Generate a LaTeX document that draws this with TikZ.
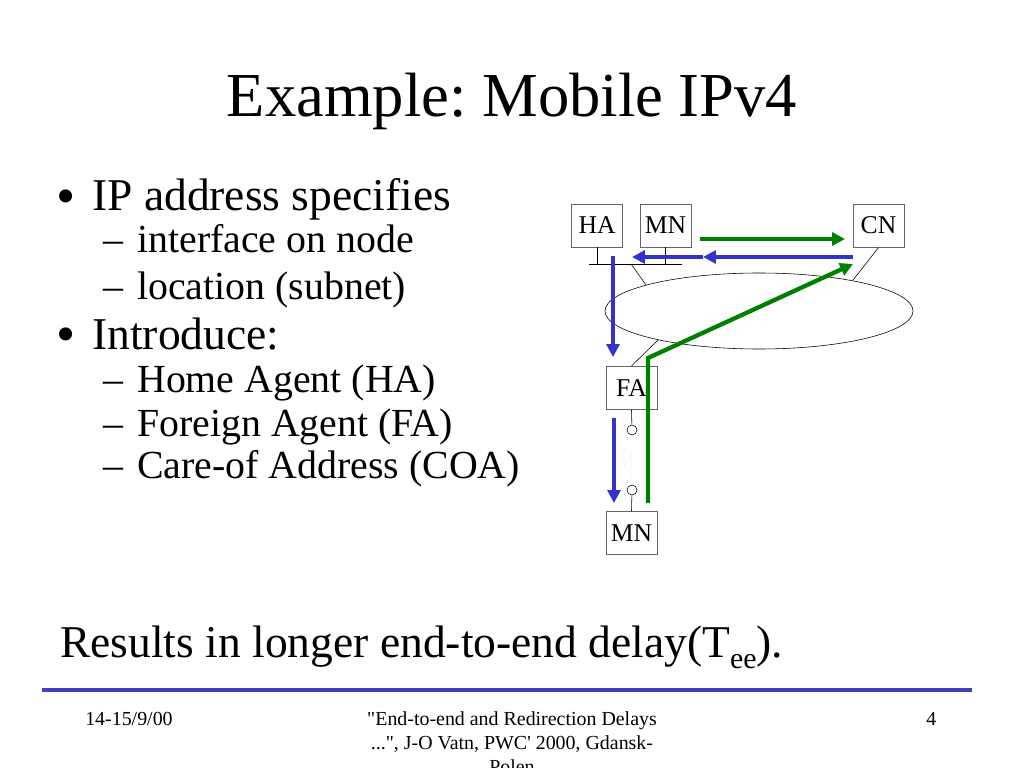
\documentclass[tikz,border=0pt]{standalone}
\usepackage{fontspec}
\setmainfont{Liberation Serif}
\newfontfamily\plainserif{Liberation Serif}[Ligatures=TeXOff]
\usetikzlibrary{arrows.meta,shapes.geometric}
\definecolor{msgblue}{RGB}{51,51,204}
\definecolor{msggreen}{RGB}{0,128,0}
\definecolor{rulecol}{RGB}{64,64,192}
\newlength\pxu
\setlength\pxu{0.703125pt}
\frenchspacing
\tikzset{
  txt/.style={inner sep=0pt, anchor=base west},
  lvlone/.style={txt, font=\fontsize{32}{38}\selectfont},
  lvltwo/.style={txt, font=\fontsize{28}{34}\selectfont},
  foot/.style={inner sep=0pt, font=\plainserif\fontsize{14}{17}\selectfont},
  host/.style={draw=black!60, line width=0.7pt, fill=white, inner sep=0pt,
    minimum width=51\pxu, minimum height=43\pxu, font=\fontsize{18}{20}\selectfont},
  port/.style={draw, circle, fill=white, inner sep=0pt, minimum size=10\pxu},
  bluearrow/.style={msgblue, line width=3pt, -{Triangle[length=9pt,width=9pt]}},
  greenarrow/.style={msggreen, line width=3pt, -{Triangle[length=9pt,width=9pt]}}
}
\begin{document}
\begin{tikzpicture}[x=\pxu,y=-\pxu]
\useasboundingbox (0,0) rectangle (1024,768);

\node[inner sep=0pt, anchor=base, font=\fontsize{44}{53}\selectfont] (title) at (512,117) {Example: Mobile IPv4};

\node[lvlone] (bulA) at (56,211) {\raisebox{-2.5pt}{\scalebox{1.2}{•}}};
\node[lvlone] (addr) at (92,211) {IP address specifies};
\node[lvltwo] (dashA) at (103,253) {–};
\node[lvltwo] (iface) at (137,253) {interface on node};
\node[lvltwo] (dashB) at (103,299) {–};
\node[lvltwo] (loc) at (137,299) {location (subnet)};
\node[lvlone] (bulB) at (56,349) {\raisebox{-2.5pt}{\scalebox{1.2}{•}}};
\node[lvlone] (intro) at (92,349) {Introduce:};
\node[lvltwo] (dashC) at (103,392) {–};
\node[lvltwo] (home) at (137,392) {Home Agent (HA)};
\node[lvltwo] (dashD) at (103,436) {–};
\node[lvltwo] (foreign) at (137,436) {Foreign Agent (FA)};
\node[lvltwo] (dashE) at (103,478) {–};
\node[lvltwo] (coa) at (137,478) {Care-of Address (COA)};

\node[lvlone] (result) at (60,657) {Results in longer end-to-end delay(T\raisebox{-8pt}{\fontsize{21}{25}\selectfont ee}).};

\draw[rulecol, line width=4\pxu] (42,690) -- (972,690);
\node[foot, anchor=base west] (date) at (85,725) {14-15/9/00};
\node[foot, anchor=base] (citeA) at (512,725) {"End-to-end and Redirection Delays};
\node[foot, anchor=base] (citeB) at (512,749) {...", J-O Vatn, PWC' 2000, Gdansk-};
\node[foot, anchor=base] (citeC) at (512,773) {Polen};
\node[foot, anchor=base west] (page) at (926,725) {4};

\node[draw, ellipse, inner sep=0pt, minimum width=308\pxu, minimum height=76\pxu] (net) at (759,311) {};
\node[host] (HA) at (597,225.5) {HA};
\node[host] (MNh) at (665.5,225.5) {MN};
\node[host] (CN) at (878.5,225.5) {CN};
\node[host] (FA) at (631.5,388) {FA};
\node[host] (MNf) at (631.5,533) {MN};
\node[port] (portA) at (632,430) {};
\node[port] (portB) at (632,490) {};

\coordinate (busW) at (589,264);
\coordinate (busE) at (682,264);
\coordinate (tap) at (631,264);
\draw (busW) -- (busE);
\draw (HA.south) -- (HA.south |- busW);
\draw (MNh.south) -- (MNh.south |- busW);
\draw (tap) -- (net.167);
\draw (CN.south) -- (net.18);
\draw (net.196) -- (FA.north);
\draw (FA.south) -- (portA);
\draw (portB) -- (MNf.north);
\draw[gray!35, densely dotted] (624,446) -- (624,467) -- (631,455) -- (631,477);

\coordinate (gA) at (700,239);
\coordinate (gB) at (845,239);
\coordinate (bA) at (853,257);
\coordinate (bB) at (703,257);
\coordinate (bC) at (632,257);
\coordinate (bD) at (613,256);
\coordinate (bE) at (613,357);
\coordinate (bF) at (614,418);
\coordinate (bG) at (614,503);
\coordinate (gC) at (648,503);
\coordinate (gD) at (648,358);
\coordinate (gE) at (853,264);
\draw[greenarrow] (gA) -- (gB);
\draw[bluearrow] (bA) -- (bB);
\draw[bluearrow] (bB) -- (bC);
\draw[bluearrow] (bD) -- (bE);
\draw[bluearrow] (bF) -- (bG);
\draw[greenarrow] (gC) -- (gD) -- (gE);

\end{tikzpicture}
\end{document}
